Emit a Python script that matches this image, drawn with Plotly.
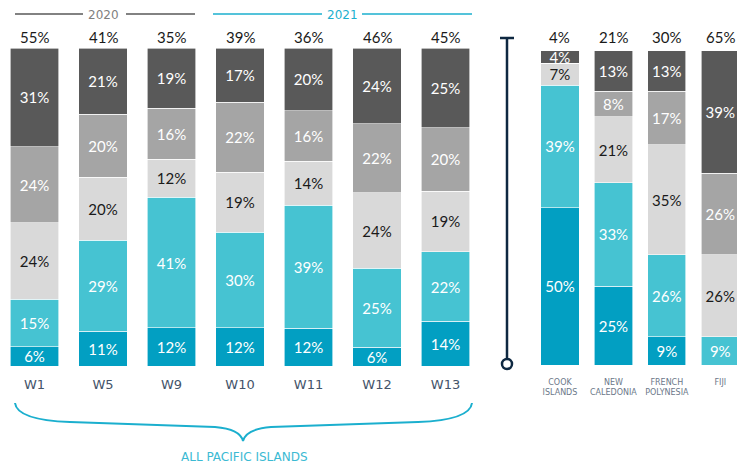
import plotly.graph_objects as go

# the page has an 8px body margin, so the figure is drawn 8px in from the window corner
W, H, OFF = 745, 473, 8
FW, FH = W - OFF, H - 2 * OFF

weeks = ["W1", "W5", "W9", "W10", "W11", "W12", "W13"]
week_vals = [
    [6, 11, 12, 12, 12, 6, 14],      # dark teal
    [15, 29, 41, 30, 39, 25, 22],    # light teal
    [24, 20, 12, 19, 14, 24, 19],    # light grey
    [24, 20, 16, 22, 16, 22, 20],    # mid grey
    [31, 21, 19, 17, 20, 24, 25],    # dark grey
]

islands = ["COOK<br>ISLANDS", "NEW<br>CALEDONIA", "FRENCH<br>POLYNESIA", "FIJI"]
island_vals = [
    [50, 25, 9, 0],
    [39, 33, 26, 9],
    [7, 21, 35, 26],
    [0, 8, 17, 26],
    [4, 13, 13, 39],
]

colors = ["#029FC2", "#46C3D2", "#D9D9D9", "#A5A5A5", "#595959"]
text_colors = ["white", "white", "#1a1a1a", "white", "white"]
NUM_FONT = "Lato, Open Sans, sans-serif"


def px_x(x):
    return (x - OFF) / FW


def px_y(y):
    return 1 - (y - OFF) / FH


def lbl(vals):
    return [f"{v}%" if v else "" for v in vals]


fig = go.Figure()
for i in range(5):
    for cats, vals, xa, ya in [(weeks, week_vals[i], "x", "y"), (islands, island_vals[i], "x2", "y2")]:
        fig.add_trace(go.Bar(
            x=cats, y=vals, xaxis=xa, yaxis=ya,
            marker=dict(color=colors[i], line=dict(color="white", width=0.6)),
            text=lbl(vals), textposition="inside", insidetextanchor="middle",
            textangle=0, textfont=dict(family=NUM_FONT, size=15, color=text_colors[i]),
            hoverinfo="skip", showlegend=False,
        ))

# totals of the two grey groups above each bar
annotations = []
for cats, vals, xa, ya, shift in [(weeks, week_vals, "x", "y", 0), (islands, island_vals, "x2", "y2", 3)]:
    for j, c in enumerate(cats):
        annotations.append(dict(
            x=c, y=100, xref=xa, yref=ya, yanchor="bottom", yshift=shift,
            text=f"{vals[3][j] + vals[4][j]}%", showarrow=False,
            font=dict(family=NUM_FONT, size=15, color="#1a1a1a"),
        ))


def note(x, y, text, size, color):
    return dict(x=px_x(x), y=px_y(y), xref="paper", yref="paper", xanchor="center",
                yanchor="middle", text=text, showarrow=False, borderpad=0,
                font=dict(family="DejaVu Sans", size=size, color=color))


annotations += [
    note(104, 15, "2020", 12, "#7f7f7f"),
    note(342, 15, "2021", 12, "#1BAFCE"),
    note(244, 457, "ALL PACIFIC ISLANDS", 12, "#3BBAD3"),
]


def line(x0, y0, x1, y1, color, width):
    return dict(type="line", xref="paper", yref="paper", x0=px_x(x0), y0=px_y(y0),
                x1=px_x(x1), y1=px_y(y1), line=dict(color=color, width=width))


def path(pts):
    out = []
    for cmd, *xy in pts:
        coords = " ".join(f"{px_x(xy[k]):.5f},{px_y(xy[k + 1]):.5f}" for k in range(0, len(xy), 2))
        out.append(f"{cmd} {coords}")
    return " ".join(out)


brace = path([
    ("M", 15, 403), ("Q", 17, 420, 70, 422), ("L", 215, 427),
    ("Q", 240, 429, 243, 441), ("Q", 246, 429, 271, 427), ("L", 418, 422),
    ("Q", 470, 420, 472, 403),
])

shapes = [
    line(15, 14, 83, 14, "#595959", 1.5),
    line(126, 14, 195, 14, "#595959", 1.5),
    line(213, 14, 322, 14, "#1BAFCE", 1.5),
    line(362, 14, 472, 14, "#1BAFCE", 1.5),
    line(507, 38, 507, 359, "#0E2841", 2.5),
    line(500, 38, 514, 38, "#0E2841", 2.5),
    dict(type="circle", xref="paper", yref="paper", x0=px_x(502), y0=px_y(369),
         x1=px_x(512), y1=px_y(359), line=dict(color="#0E2841", width=2.5), fillcolor="white"),
    dict(type="path", xref="paper", yref="paper", path=brace,
         line=dict(color="#1BAFCE", width=2)),
]

fig.update_layout(
    width=FW, height=FH, margin=dict(l=0, r=0, t=0, b=0),
    paper_bgcolor="white", plot_bgcolor="white",
    barmode="stack", barnorm="percent", bargap=0.285,
    uniformtext=dict(minsize=15, mode="show"),
    xaxis=dict(domain=[0, px_x(479.75)], range=[-0.5 + (OFF - 0.25) / 68.5, 6.5],
               showgrid=False, zeroline=False, showline=False, ticks="",
               ticklabelstandoff=9,
               tickfont=dict(family="DejaVu Sans", size=13, color="#44546A")),
    yaxis=dict(domain=[px_y(366), px_y(48)], range=[0, 100], visible=False),
    xaxis2=dict(domain=[px_x(533.25), 1], range=[-0.5, 3.463], anchor="y2",
                showgrid=False, zeroline=False, showline=False, ticks="",
                ticklabelstandoff=11,
                tickfont=dict(family="DejaVu Sans", size=8, color="#6B7889")),
    yaxis2=dict(domain=[px_y(365), px_y(50.5)], range=[0, 100], visible=False, anchor="x2"),
    annotations=annotations, shapes=shapes,
)

fig.write_html("out.html")
